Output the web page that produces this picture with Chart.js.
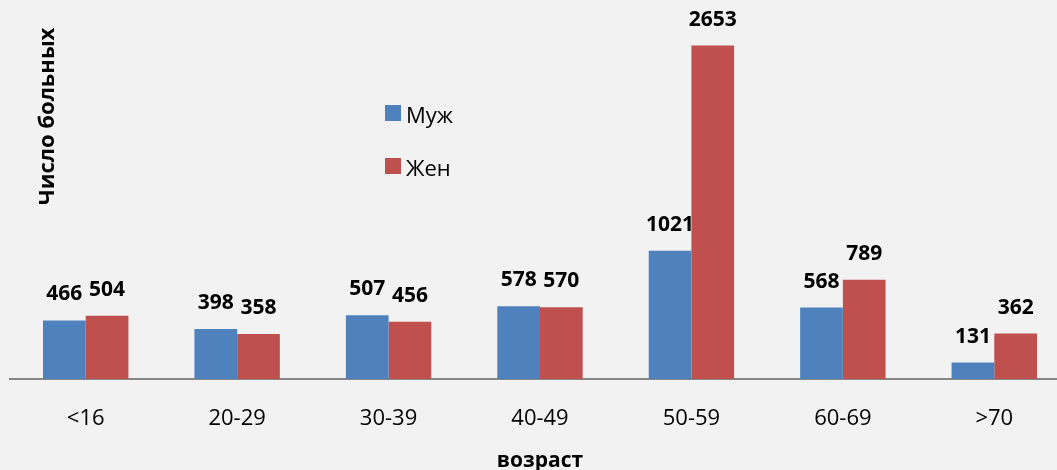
<!DOCTYPE html>
<html><head><meta charset="utf-8">
<script src="https://cdn.jsdelivr.net/npm/chart.js@4"></script>
<style>
html,body{margin:0;padding:0;background:#f2f2f2;overflow:hidden;width:1057px;height:470px}
#wrap{position:relative;width:1070px;height:470px}
canvas{display:block}
</style></head>
<body><div id="wrap"><canvas id="c" width="1070" height="470"></canvas></div>
<script>
const categories = ['<16', '20-29', '30-39', '40-49', '50-59', '60-69', '>70'];
const seriesNames = ['Муж', 'Жен'];
const male = [466, 398, 507, 578, 1021, 568, 131];
const female = [504, 358, 456, 570, 2653, 789, 362];
const seriesColors = ['#4f81bd', '#c0504d'];
const xTitle = 'возраст';
const yTitle = 'Число больных';
const yMax = 3000;

const FONT = "'Open Sans', 'DejaVu Sans', sans-serif";

const overlay = {
  id: 'overlay',
  afterDatasetsDraw(chart) {
    const ctx = chart.ctx;
    ctx.save();
    // data labels
    ctx.fillStyle = '#000';
    ctx.font = 'bold 21px ' + FONT;
    ctx.textAlign = 'center';
    ctx.textBaseline = 'alphabetic';
    chart.data.datasets.forEach((ds, di) => {
      const meta = chart.getDatasetMeta(di);
      meta.data.forEach((bar, i) => {
        ctx.fillText(String(ds.data[i]), bar.x, bar.y - 20);
      });
    });
    // legend
    const lx = 385, ly = [105, 158];
    ctx.textAlign = 'left';
    ctx.font = '22px ' + FONT;
    seriesNames.forEach((name, i) => {
      ctx.fillStyle = seriesColors[i];
      ctx.fillRect(lx, ly[i], 16, 16);
      ctx.fillStyle = '#000';
      ctx.fillText(name, lx + 21, ly[i] + 18);
    });
    // y title
    ctx.translate(54, 116.5);
    ctx.rotate(-Math.PI / 2);
    ctx.textAlign = 'center';
    ctx.font = 'bold 22px ' + FONT;
    ctx.fillText(yTitle, 0, 0);
    ctx.restore();
  }
};

new Chart(document.getElementById('c'), {
  type: 'bar',
  data: {
    labels: categories,
    datasets: [
      { label: seriesNames[0], data: male, backgroundColor: seriesColors[0], borderWidth: 0 },
      { label: seriesNames[1], data: female, backgroundColor: seriesColors[1], borderWidth: 0 }
    ]
  },
  options: {
    responsive: false,
    devicePixelRatio: 1,
    animation: false,
    layout: { padding: { left: 10, top: 2, right: 0, bottom: 0 } },
    datasets: { bar: { barPercentage: 1, categoryPercentage: 0.564 } },
    plugins: { legend: { display: false }, tooltip: { enabled: false } },
    scales: {
      x: {
        grid: { display: false },
        border: { display: true, color: '#878787', width: 2 },
        ticks: { color: '#000', font: { family: FONT, size: 22 }, padding: 19 },
        title: { display: true, text: xTitle, color: '#000', font: { family: FONT, size: 21, weight: 'bold', lineHeight: 0.85 }, padding: { top: 0, bottom: 0 } },
        afterFit(s) { s.height = 91; }
      },
      y: { display: false, min: 0, max: yMax }
    }
  },
  plugins: [overlay]
});
</script>
</body></html>
